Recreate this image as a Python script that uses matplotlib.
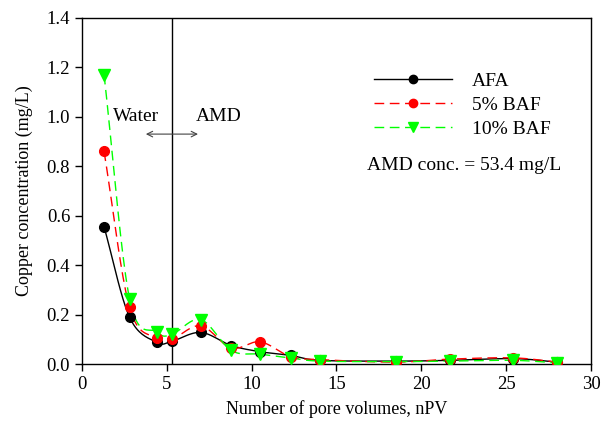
import numpy as np
import matplotlib
matplotlib.use("Agg")
import matplotlib.pyplot as plt

plt.rcParams['font.family'] = ['Liberation Serif', 'DejaVu Serif']

pore_volumes = [1.3, 2.8, 4.4, 5.3, 7.0, 8.8, 10.5, 12.3, 14.0, 18.5, 21.7, 25.4, 28.0]
afa = [0.555, 0.19, 0.088, 0.092, 0.128, 0.075, 0.05, 0.035, 0.015, 0.012, 0.015, 0.022, 0.008]
baf5 = [0.86, 0.23, 0.105, 0.10, 0.155, 0.065, 0.09, 0.03, 0.018, 0.008, 0.02, 0.025, 0.008]
baf10 = [1.17, 0.265, 0.13, 0.12, 0.18, 0.055, 0.04, 0.025, 0.012, 0.01, 0.012, 0.015, 0.005]
series_labels = ["AFA", "5% BAF", "10% BAF"]


def smooth_curve(x, y, n=20):
    """Catmull-Rom spline through the points, for a smoothed connecting line."""
    x = np.asarray(x, float)
    y = np.asarray(y, float)
    px = np.concatenate([[2 * x[0] - x[1]], x, [2 * x[-1] - x[-2]]])
    py = np.concatenate([[2 * y[0] - y[1]], y, [2 * y[-1] - y[-2]]])
    xs, ys = [], []
    t = np.linspace(0, 1, n, endpoint=False)
    for i in range(1, len(px) - 2):
        p0, p1, p2, p3 = (np.array([px[j], py[j]]) for j in range(i - 1, i + 3))
        tt = t[:, None]
        pts = 0.5 * ((2 * p1) + (-p0 + p2) * tt + (2 * p0 - 5 * p1 + 4 * p2 - p3) * tt ** 2
                     + (-p0 + 3 * p1 - 3 * p2 + p3) * tt ** 3)
        xs.append(pts[:, 0])
        ys.append(pts[:, 1])
    xs.append([x[-1]])
    ys.append([y[-1]])
    return np.concatenate(xs), np.concatenate(ys)


fig = plt.figure(figsize=(6.03, 4.36), dpi=100)
ax = fig.add_axes([0.136, 0.165, 0.844, 0.794])

styles = [
    dict(color="black", ls="-", marker="o", ms=7),
    dict(color="#ff0000", ls=(0, (7, 4)), marker="o", ms=7),
    dict(color="#00ff00", ls=(0, (7, 4)), marker="v", ms=8),
]
for vals, st, lab in zip([afa, baf5, baf10], styles, series_labels):
    sx, sy = smooth_curve(pore_volumes, vals)
    ax.plot(sx, sy, color=st["color"], ls=st["ls"], lw=1.0, zorder=2)
    ax.plot(pore_volumes, vals, ls="none", marker=st["marker"], ms=st["ms"],
            color=st["color"], mec=st["color"], zorder=3)
    ax.plot([], [], color=st["color"], ls=st["ls"], lw=1.0, marker=st["marker"],
            ms=st["ms"] - 1, label=lab)

ax.axvline(5.3, color="black", lw=1.0, zorder=1)
ax.annotate("", xy=(3.6, 0.93), xytext=(7.0, 0.93),
            arrowprops=dict(arrowstyle="<->", color="#444444", lw=0.8))
ax.text(1.8, 1.0, "Water", fontsize=14, va="center", ha="left")
ax.text(6.7, 1.0, "AMD", fontsize=14, va="center", ha="left")
ax.text(16.8, 0.805, "AMD conc. = 53.4 mg/L", fontsize=14, va="center", ha="left")

leg = ax.legend(loc="upper left", bbox_to_anchor=(0.567, 0.855), frameon=False,
                fontsize=14, handlelength=4.0, handletextpad=1.0, labelspacing=0.33,
                borderpad=0.2, borderaxespad=0.0)

ax.set_xlim(0, 30)
ax.set_ylim(0, 1.4)
ax.set_xticks(np.arange(0, 31, 5))
ax.set_yticks(np.arange(0, 1.41, 0.2))
ax.set_yticklabels([f"{v:.1f}" for v in np.arange(0, 1.41, 0.2)])
ax.tick_params(direction="out", length=5, width=1, labelsize=13.5, top=False, right=False)
ax.set_xlabel("Number of pore volumes, nPV", fontsize=13, labelpad=5)
ax.set_ylabel("Copper concentration (mg/L)", fontsize=13, labelpad=10)
for sp in ax.spines.values():
    sp.set_linewidth(1.0)

fig.savefig("out.png", dpi=100)
